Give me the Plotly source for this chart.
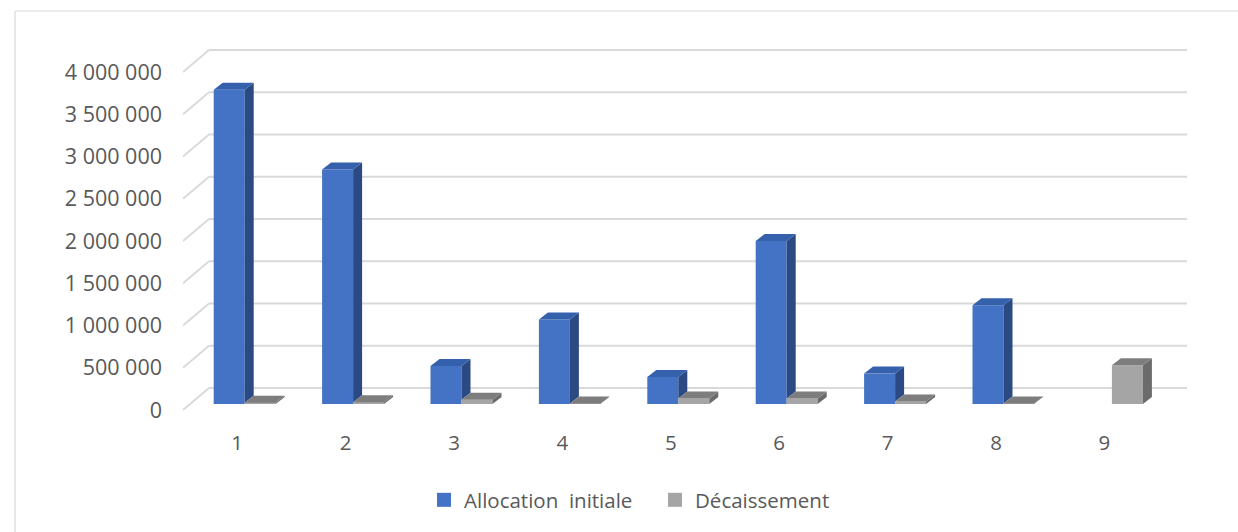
import plotly.graph_objects as go

# ---------------- data ----------------
categories = [1, 2, 3, 4, 5, 6, 7, 8, 9]
allocation_initiale = [3720000, 2775000, 450000, 1000000, 320000, 1930000, 360000, 1170000, 0]
decaissement = [15000, 20000, 50000, 5000, 65000, 65000, 30000, 5000, 460000]
y_ticks = [0, 500000, 1000000, 1500000, 2000000, 2500000, 3000000, 3500000, 4000000]
y_tick_labels = ["0", "500 000", "1 000 000", "1 500 000", "2 000 000",
                 "2 500 000", "3 000 000", "3 500 000", "4 000 000"]
series_names = ["Allocation\u00a0 initiale", "Décaissement"]

# ---------------- geometry / style ----------------
W, H = 1238, 532
L, R, T, B = 183, 51, 40, 112
plot_w = W - L - R
plot_h = H - T - B
px_per_cat = 108.4
k = 84.5e-6                      # px per value unit
x_range = [0.5, 0.5 + plot_w / px_per_cat]

# label axis (front edge of floor): value 0 at y=410px
lab0 = 410
y_range = [-(T + plot_h - lab0) / k, (lab0 - T) / k]
# bar axis: value 0 at y=404px
bar0 = 404
y2_range = [-(T + plot_h - bar0) / k, (bar0 - T) / k]

back_dx = 26 / px_per_cat
back_dy = 22 / k
bar_w = 31 / px_per_cat
blue_off = -8 / px_per_cat
gray_off = blue_off + bar_w
dep_dx = 9 / px_per_cat
dep_dy = 7 / k

FONT = "Open Sans"
TXT = "#595959"
GRID = "#D9D9D9"
BLUE, BLUE_SIDE, BLUE_TOP = "#4472C4", "#2B4A84", "#3560AC"
GRAY, GRAY_SIDE, GRAY_TOP = "#A5A5A5", "#6B6B6B", "#7D7D7D"

fig = go.Figure()

fig.add_trace(go.Bar(
    x=[c + blue_off for c in categories], y=allocation_initiale, width=bar_w,
    name=series_names[0], marker=dict(color=BLUE, line=dict(width=0)),
    legendgroup="a", showlegend=False, yaxis="y2"))
fig.add_trace(go.Bar(
    x=[c + gray_off for c in categories], y=decaissement, width=bar_w,
    name=series_names[1], marker=dict(color=GRAY, line=dict(width=0)),
    legendgroup="d", showlegend=False, yaxis="y2"))


def build(values, off, under):
    sx, sy, tx, ty = [], [], [], []
    for c, v, u in zip(categories, values, under):
        if v <= 0:
            continue
        xl = c + off - bar_w / 2
        xr = c + off + bar_w / 2
        u = min(u, v)
        sx += [xr, xr + dep_dx, xr + dep_dx, xr, xr, None]
        sy += [u, u + dep_dy, v + dep_dy, v, u, None]
        tx += [xl, xr, xr + dep_dx, xl + dep_dx, xl, None]
        ty += [v, v, v + dep_dy, v + dep_dy, v, None]
    return sx, sy, tx, ty


bsx, bsy, btx, bty = build(allocation_initiale, blue_off, decaissement)
gsx, gsy, gtx, gty = build(decaissement, gray_off, [0] * len(categories))

for xs, ys, col, grp in [(bsx, bsy, BLUE_SIDE, "a"), (btx, bty, BLUE_TOP, "a"),
                         (gsx, gsy, GRAY_SIDE, "d"), (gtx, gty, GRAY_TOP, "d")]:
    fig.add_trace(go.Scatter(
        x=xs, y=ys, mode="lines", fill="toself", fillcolor=col,
        line=dict(width=0, color=col), showlegend=False, hoverinfo="skip",
        legendgroup=grp, yaxis="y2"))

# legend entries (square markers like the original)
for name, col, grp in [(series_names[0], BLUE, "a"), (series_names[1], GRAY, "d")]:
    fig.add_trace(go.Scatter(
        x=[None], y=[None], mode="markers", name=name, legendgroup=grp,
        marker=dict(symbol="square", size=14, color=col), yaxis="y2"))

# back wall gridlines and side wall diagonals
shapes = []
for t in y_ticks:
    shapes.append(dict(type="line", xref="x", yref="y", layer="below",
                       x0=x_range[0] + back_dx, x1=x_range[1],
                       y0=t + back_dy, y1=t + back_dy,
                       line=dict(color=GRID, width=1.8)))
    shapes.append(dict(type="line", xref="x", yref="y", layer="below",
                       x0=x_range[0], x1=x_range[0] + back_dx,
                       y0=t, y1=t + back_dy,
                       line=dict(color=GRID, width=1.8)))


def px_x(p):
    return (p - L) / plot_w


def px_y(p):
    return (T + plot_h - p) / plot_h


# chart border (top and left edges visible)
shapes.append(dict(type="line", xref="paper", yref="paper",
                   x0=px_x(15), x1=px_x(1245), y0=px_y(11), y1=px_y(11),
                   line=dict(color=GRID, width=1.2)))
shapes.append(dict(type="line", xref="paper", yref="paper",
                   x0=px_x(15), x1=px_x(15), y0=px_y(11), y1=px_y(540),
                   line=dict(color=GRID, width=1.2)))

fig.update_layout(
    width=W, height=H,
    margin=dict(l=L, r=R, t=T, b=B, autoexpand=False),
    paper_bgcolor="white", plot_bgcolor="white",
    font=dict(family=FONT, size=20.5, color=TXT),
    barmode="overlay",
    showlegend=True,
    legend=dict(orientation="h", x=px_x(424), xanchor="left",
                y=px_y(500), yanchor="middle", entrywidth=186,
                font=dict(family=FONT, size=20.5, color=TXT),
                traceorder="normal", itemclick=False, itemdoubleclick=False),
    xaxis=dict(range=x_range, tickmode="array", tickvals=categories,
               ticktext=[str(c) for c in categories], showgrid=False,
               zeroline=False, showline=False, ticks="",
               ticklabelstandoff=8,
               tickfont=dict(family=FONT, size=20.5, color=TXT)),
    yaxis=dict(range=y_range, tickmode="array", tickvals=y_ticks,
               ticktext=y_tick_labels, showgrid=False, zeroline=False,
               showline=False, ticks="", ticklabelstandoff=20,
               tickfont=dict(family=FONT, size=21.5, color=TXT)),
    yaxis2=dict(range=y2_range, overlaying="y", side="left",
                showgrid=False, zeroline=False, showline=False,
                showticklabels=False, ticks=""),
    shapes=shapes,
)

fig.write_html("out.html")
